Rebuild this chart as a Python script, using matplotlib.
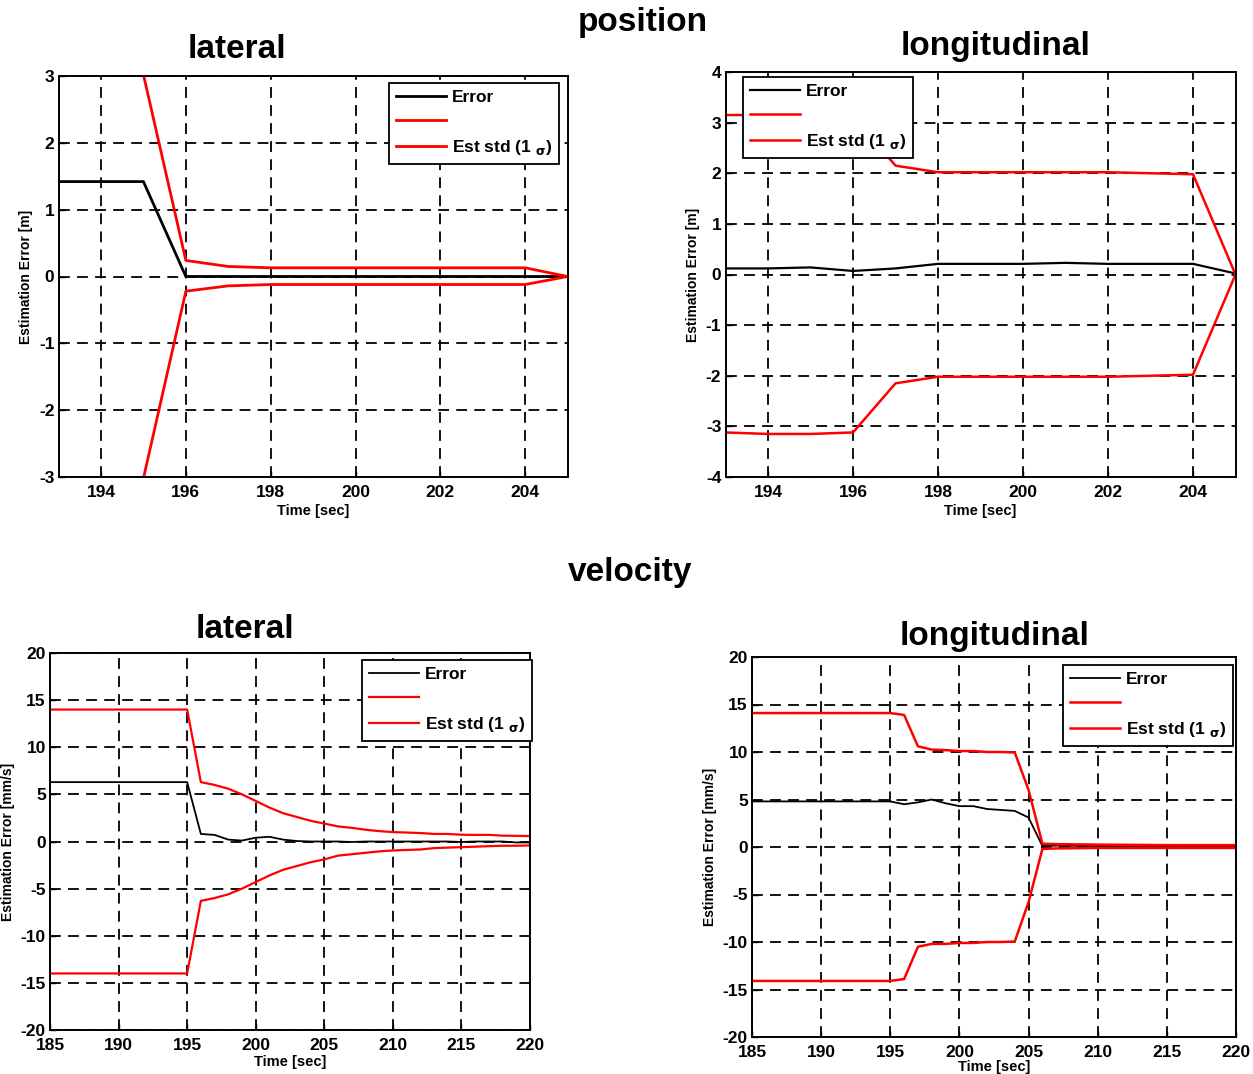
import matplotlib
matplotlib.use("Agg")
import matplotlib.pyplot as plt
import numpy as np

plt.rcParams['font.family'] = ['Liberation Sans', 'DejaVu Sans']
plt.rcParams['axes.unicode_minus'] = False

# ---------------- data ----------------
# position lateral
pl_t = [193, 194, 195, 196, 197, 198, 199, 200, 201, 202, 203, 204, 205]
pl_err = [1.42, 1.42, 1.42, 0.0, 0.0, 0.0, 0.0, 0.0, 0.0, 0.0, 0.0, 0.0, 0.0]
pl_std_up = [9.0, 9.0, 3.02, 0.24, 0.15, 0.13, 0.13, 0.13, 0.13, 0.13, 0.13, 0.13, 0.0]
pl_std_lo = [-9.0, -9.0, -3.02, -0.22, -0.14, -0.12, -0.12, -0.12, -0.12, -0.12, -0.12, -0.12, 0.0]

# position longitudinal
pg_t = [193, 194, 195, 196, 197, 198, 199, 200, 201, 202, 203, 204, 205]
pg_err = [0.12, 0.12, 0.14, 0.07, 0.12, 0.21, 0.21, 0.21, 0.23, 0.21, 0.21, 0.21, 0.02]
pg_std_up = [3.15, 3.15, 3.15, 3.13, 2.15, 2.02, 2.02, 2.02, 2.02, 2.02, 2.0, 1.98, 0.0]
pg_std_lo = [-3.12, -3.15, -3.15, -3.12, -2.15, -2.02, -2.02, -2.02, -2.02, -2.02, -2.0, -1.98, 0.0]

# velocity lateral
vl_t = [185, 195, 196, 197, 198, 199, 200, 201, 202, 203, 204, 205, 206, 207, 208, 209,
        210, 211, 212, 213, 214, 215, 216, 217, 218, 219, 220]
vl_err = [6.3, 6.3, 0.8, 0.7, 0.2, 0.1, 0.4, 0.5, 0.2, 0.05, 0.0, 0.0, 0.0, -0.05, 0.0, 0.0,
          0.0, 0.0, 0.0, 0.0, 0.0, -0.05, 0.0, 0.0, 0.0, -0.1, -0.1]
vl_std_up = [14.0, 14.0, 6.3, 6.0, 5.6, 5.0, 4.3, 3.6, 3.0, 2.6, 2.2, 1.9, 1.6, 1.45, 1.25, 1.1,
             1.0, 0.95, 0.9, 0.8, 0.8, 0.72, 0.7, 0.7, 0.62, 0.6, 0.58]
vl_std_lo = [-14.0, -14.0, -6.3, -6.0, -5.6, -5.0, -4.3, -3.6, -3.0, -2.6, -2.2, -1.9, -1.5, -1.35, -1.2, -1.05,
             -0.95, -0.9, -0.85, -0.7, -0.65, -0.6, -0.55, -0.5, -0.45, -0.45, -0.42]

# velocity longitudinal
vg_t = [185, 195, 196, 197, 198, 199, 200, 201, 202, 203, 204, 205, 206, 207, 210, 215, 220]
vg_err = [4.8, 4.8, 4.5, 4.7, 5.0, 4.6, 4.3, 4.3, 4.0, 3.9, 3.8, 3.1, 0.1, 0.15, 0.1, 0.1, 0.1]
vg_std_up = [14.1, 14.1, 13.9, 10.6, 10.25, 10.2, 10.1, 10.1, 10.0, 10.0, 9.95, 6.0, 0.35, 0.3, 0.25, 0.2, 0.2]
vg_std_lo = [-14.1, -14.1, -13.9, -10.5, -10.2, -10.2, -10.1, -10.1, -10.0, -10.0, -9.95, -5.8, -0.2, -0.15, -0.1, -0.1, -0.1]

pos_xticks = [194, 196, 198, 200, 202, 204]
vel_xticks = [185, 190, 195, 200, 205, 210, 215, 220]

W, H = 1253, 1074
fig = plt.figure(figsize=(W / 100, H / 100), dpi=100)


def frac(l, r, t, b):
    return [l / W, 1 - b / H, (r - l) / W, (b - t) / H]


def style(ax, xlim, ylim, xticks, yticks, ylabel, xlabelpad):
    ax.set_xlim(*xlim)
    ax.set_ylim(*ylim)
    ax.set_xticks(xticks)
    ax.set_yticks(yticks)
    ax.grid(True, color='black', linestyle=(0, (6, 4)), linewidth=1.3)
    ax.tick_params(direction='in', length=4, width=1, labelsize=12.5)
    ax.tick_params(axis='x', pad=6)
    ax.tick_params(axis='y', pad=3)
    for lab in ax.get_xticklabels() + ax.get_yticklabels():
        lab.set_fontweight('bold')
    for s in ax.spines.values():
        s.set_linewidth(1.4)
        s.set_color('black')
    ax.set_xlabel('Time [sec]', fontsize=10.5, fontweight='bold', labelpad=xlabelpad)
    ax.set_ylabel(ylabel, fontsize=10, fontweight='bold', labelpad=4)


def legend(ax, x, y):
    handles = ax.get_lines()[:3]
    labels = ['Error', '', r'Est std (1 ${}_{\mathbf{\sigma}}$)']
    leg = ax.legend(handles, labels, loc='upper left',
                    bbox_to_anchor=(x / W, 1 - y / H), bbox_transform=fig.transFigure,
                    fancybox=False, framealpha=1, edgecolor='black',
                    prop={'size': 12.5, 'weight': 'bold'},
                    handlelength=2.9, handletextpad=0.35, labelspacing=0.5,
                    borderpad=0.4, borderaxespad=0)
    leg.get_frame().set_linewidth(1.3)


# ---- position lateral ----
ax1 = fig.add_axes(frac(58.6, 567.6, 76, 477))
ax1.plot(pl_t, pl_err, color='black', lw=2.0)
ax1.plot(pl_t, pl_std_up, color='red', lw=2.0)
ax1.plot(pl_t, pl_std_lo, color='red', lw=2.0)
style(ax1, (193, 205), (-3, 3), pos_xticks, range(-3, 4), 'Estimation Error [m]', 3)
legend(ax1, 389, 83)

# ---- position longitudinal ----
ax2 = fig.add_axes(frac(725.5, 1235.5, 72, 477))
ax2.plot(pg_t, pg_err, color='black', lw=1.6)
ax2.plot(pg_t, pg_std_up, color='red', lw=1.8)
ax2.plot(pg_t, pg_std_lo, color='red', lw=1.8)
style(ax2, (193, 205), (-4, 4), pos_xticks, range(-4, 5), 'Estimation Error [m]', 3)
legend(ax2, 743, 77)

# ---- velocity lateral ----
ax3 = fig.add_axes(frac(50, 530, 653, 1030))
ax3.plot(vl_t, vl_err, color='black', lw=1.3)
ax3.plot(vl_t, vl_std_up, color='red', lw=1.6)
ax3.plot(vl_t, vl_std_lo, color='red', lw=1.6)
style(ax3, (185, 220), (-20, 20), vel_xticks, range(-20, 21, 5), 'Estimation Error [mm/s]', 1)
legend(ax3, 362, 660)

# ---- velocity longitudinal ----
ax4 = fig.add_axes(frac(752, 1236, 657, 1037))
ax4.plot(vg_t, vg_err, color='black', lw=1.3)
ax4.plot(vg_t, vg_std_up, color='red', lw=1.8)
ax4.plot(vg_t, vg_std_lo, color='red', lw=1.8)
style(ax4, (185, 220), (-20, 20), vel_xticks, range(-20, 21, 5), 'Estimation Error [mm/s]', 0)
legend(ax4, 1063, 665)

# ---- titles ----
tkw = dict(fontsize=24, fontweight='bold', ha='center', va='center')
fig.text(643 / W, 1 - 22 / H, 'position', **tkw)
fig.text(237 / W, 1 - 50 / H, 'lateral', **tkw)
fig.text(996 / W, 1 - 47 / H, 'longitudinal', **tkw)
fig.text(630 / W, 1 - 573 / H, 'velocity', **tkw)
fig.text(245 / W, 1 - 630 / H, 'lateral', **tkw)
fig.text(995 / W, 1 - 637 / H, 'longitudinal', **tkw)

fig.savefig('out.png', dpi=100, facecolor='white')
